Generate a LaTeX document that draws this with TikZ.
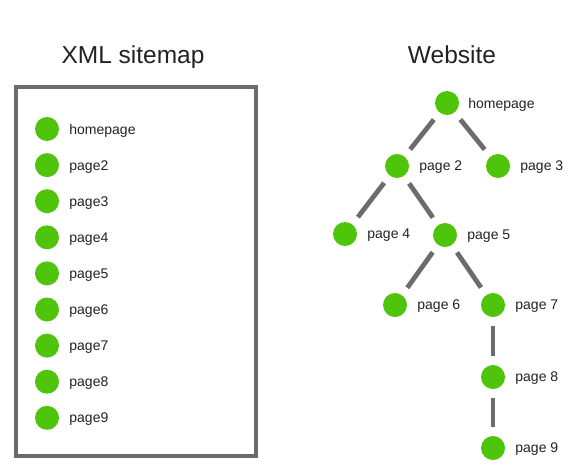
\documentclass[tikz,border=0pt]{standalone}
\usepackage{fontspec}
\setmainfont{Liberation Sans}
\definecolor{dotgreen}{RGB}{78,196,10}
\definecolor{framegray}{RGB}{108,108,108}
\definecolor{txtgray}{RGB}{34,34,34}
\begin{document}
\begin{tikzpicture}[x=1pt, y=-1pt,
        dot/.style={circle, fill=dotgreen, minimum size=24pt, inner sep=0pt},
        lbl/.style={text=txtgray, inner sep=0pt, yshift=-1.5pt, font=\fontsize{14}{16}\selectfont},
        title/.style={text=txtgray, anchor=base, inner sep=0pt, font=\fontsize{24.5}{28}\selectfont},
        link/.style={framegray, line width=4.8pt, shorten <=9pt, shorten >=9pt}]
    \useasboundingbox (0, 0) rectangle (578, 469);

    % titles
    \node[title] (xmltitle) at (133, 63) {XML sitemap};
    \node[title] (webtitle) at (452, 63) {Website};

    % XML sitemap list
    \draw[framegray, line width=4pt] (16, 87) rectangle (256, 456);
    \node[dot, label={[lbl, label distance=10pt]right:homepage}] (s1) at (47, 129) {};
    \foreach \i in {2, ..., 9} {
        \node[dot, label={[lbl, label distance=10pt]right:page\i}] (s\i) at (47, {129 + (\i - 1) * 36.1}) {};
    }

    % Website tree
    \node[dot, label={[lbl, label distance=9pt]right:homepage}] (home) at (447, 103) {};
    \node[dot, label={[lbl, label distance=10pt]right:page 2}] (p2) at (397, 166) {};
    \node[dot, label={[lbl, label distance=10pt]right:page 3}] (p3) at (498, 166) {};
    \node[dot, label={[lbl, label distance=10pt]right:page 4}] (p4) at (345, 234) {};
    \node[dot, label={[lbl, label distance=10pt]right:page 5}] (p5) at (445, 235) {};
    \node[dot, label={[lbl, label distance=10pt]right:page 6}] (p6) at (395, 305) {};
    \node[dot, label={[lbl, label distance=10pt]right:page 7}] (p7) at (493, 305) {};
    \node[dot, label={[lbl, label distance=10pt]right:page 8}] (p8) at (493, 377) {};
    \node[dot, label={[lbl, label distance=10pt]right:page 9}] (p9) at (493, 448) {};

    \draw[link] (home) -- (p2);
    \draw[link] (home) -- (p3);
    \draw[link] (p2) -- (p4);
    \draw[link] (p2) -- (p5);
    \draw[link] (p5) -- (p6);
    \draw[link] (p5) -- (p7);
    \draw[link] (p7) -- (p8);
    \draw[link] (p8) -- (p9);
\end{tikzpicture}
\end{document}
